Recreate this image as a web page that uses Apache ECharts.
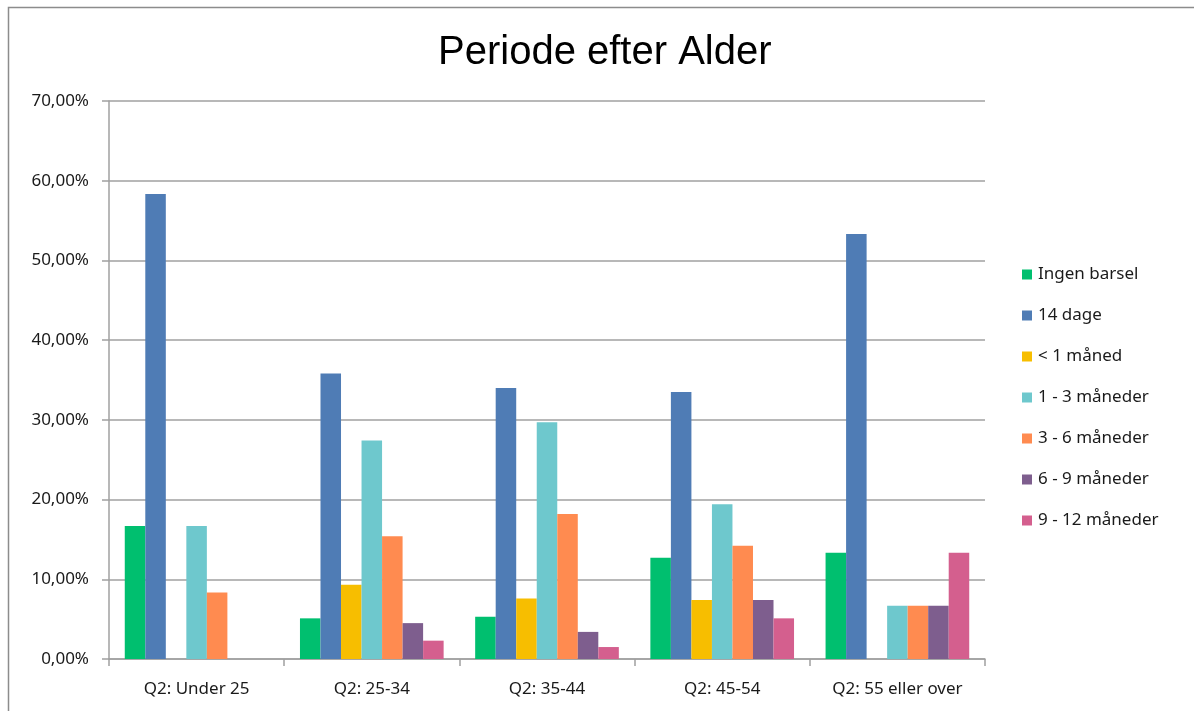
<!DOCTYPE html>
<html>
<head>
<meta charset="utf-8">
<title>Periode efter Alder</title>
<script src="https://cdn.jsdelivr.net/npm/echarts@6/dist/echarts.min.js"></script>
<style>
  html, body { margin: 0; padding: 0; background: #fff; }
  #main { width: 1194px; height: 711px; }
</style>
</head>
<body>
<div id="main"></div>
<script>
// age groups on the x axis
const categories = ['Q2: Under 25', 'Q2: 25-34', 'Q2: 35-44', 'Q2: 45-54', 'Q2: 55 eller over'];

// percent per period, one array per legend entry
const ingenBarsel = [16.67, 5.1, 5.3, 12.7, 13.33];
const dage14 = [58.33, 35.8, 34.0, 33.5, 53.33];
const under1 = [0, 9.3, 7.6, 7.4, 0];
const mdr1til3 = [16.67, 27.4, 29.7, 19.4, 6.67];
const mdr3til6 = [8.33, 15.4, 18.2, 14.2, 6.67];
const mdr6til9 = [0, 4.5, 3.4, 7.4, 6.67];
const mdr9til12 = [0, 2.3, 1.5, 5.1, 13.33];

const yTicks = [0, 10, 20, 30, 40, 50, 60, 70];

const seriesNames = ['Ingen barsel', '14 dage', '< 1 måned', '1 - 3 måneder', '3 - 6 måneder', '6 - 9 måneder', '9 - 12 måneder'];
const seriesData = [ingenBarsel, dage14, under1, mdr1til3, mdr3til6, mdr6til9, mdr9til12];
const colors = ['#00bf6f', '#4f7cb5', '#f7be00', '#6ec8cd', '#ff8b50', '#7e5e8e', '#d45f8e'];

const chart = echarts.init(document.getElementById('main'));

const labelFont = 'Noto Sans, sans-serif';
const gridColor = '#a0a0a0';

const option = {
  animation: false,
  backgroundColor: '#fff',
  color: colors,
  title: {
    text: 'Periode efter Alder',
    left: 433,
    top: 28,
    textStyle: {
      fontFamily: 'Liberation Sans, Arial, sans-serif',
      fontSize: 40,
      fontWeight: 'normal',
      color: '#000'
    }
  },
  legend: {
    orient: 'vertical',
    left: 1017,
    top: 261,
    itemWidth: 10,
    itemHeight: 10,
    itemGap: 24,
    icon: 'rect',
    data: seriesNames,
    textStyle: {
      fontFamily: labelFont,
      fontSize: 17,
      color: '#1a1a1a',
      padding: [0, 0, 0, 1]
    }
  },
  grid: {
    left: 109,
    right: 1194 - 985,
    top: 101,
    bottom: 711 - 659
  },
  xAxis: {
    type: 'category',
    data: categories,
    axisLine: { lineStyle: { color: gridColor, width: 1.5 } },
    axisTick: { show: true, length: 7, alignWithLabel: false, lineStyle: { color: gridColor, width: 1.5 } },
    axisLabel: {
      margin: 22,
      fontFamily: labelFont,
      fontSize: 17,
      color: '#1a1a1a'
    }
  },
  yAxis: {
    type: 'value',
    min: yTicks[0],
    max: yTicks[yTicks.length - 1],
    interval: 10,
    axisLine: { show: true, lineStyle: { color: gridColor, width: 1.5 } },
    axisTick: { show: true, length: 7, inside: false, lineStyle: { color: gridColor, width: 1.5 } },
    splitLine: { lineStyle: { color: gridColor, width: 1.5 } },
    axisLabel: {
      margin: 20,
      fontFamily: labelFont,
      fontSize: 17,
      color: '#1a1a1a',
      formatter: function (v) {
        return v.toFixed(2).replace('.', ',') + '%';
      }
    }
  },
  series: seriesNames.map(function (name, i) {
    return {
      name: name,
      type: 'bar',
      data: seriesData[i],
      barGap: '0%',
      barCategoryGap: '18%',
      itemStyle: { color: colors[i] }
    };
  }),
  graphic: [{
    type: 'rect',
    shape: { x: 8.5, y: 7.5, width: 1300, height: 800 },
    style: { fill: 'none', stroke: '#8c8c8c', lineWidth: 1.5 },
    silent: true
  }]
};

chart.setOption(option);
</script>
</body>
</html>
